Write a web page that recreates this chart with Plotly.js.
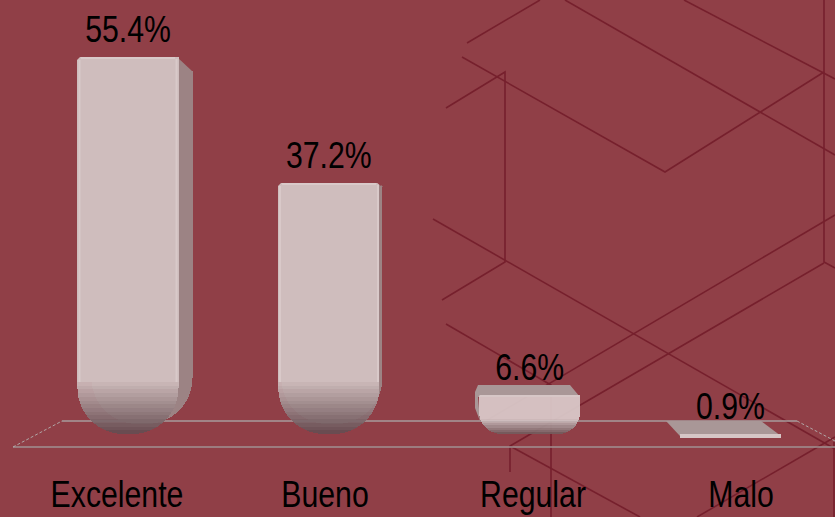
<!DOCTYPE html>
<html>
<head>
<meta charset="utf-8">
<script src="https://cdn.plot.ly/plotly-3.0.1.min.js"></script>
<style>html,body{margin:0;padding:0;background:#903F47;overflow:hidden}</style>
</head>
<body>
<div id="chart" style="width:835px;height:517px"></div>
<script>
// ---- data ----
var categories = ['Excelente', 'Bueno', 'Regular', 'Malo'];
var values = [55.4, 37.2, 6.6, 0.9];
var valueLabels = ['55.4%', '37.2%', '6.6%', '0.9%'];

// ---- page geometry ----
var W = 835, PLOT_H = 470;
var PX_PER_UNIT = 6.92, ZERO_PX = 440.5;
var FONT = '"Liberation Sans",Arial,sans-serif';
var BG = '#903F47';
function v(p) { return (ZERO_PX - p) / PX_PER_UNIT; }   // value at a page height
function drop(p) { return p / PX_PER_UNIT; }             // same height, measured down from the page top
function px(x) { return x / W; }
function py(y) { return 1 - y / PLOT_H; }

var sideTopPx = [71, 187, null, null];
var sideBottomPx = [424, 424, null, null];
var sideShiftPx = [14, 3, 0, 0];
var shadeStartPx = [382, 382, 419, null];
var shadeSteps = [14, 14, 7, 0];
var bottomPx = [434, 434, 434, 437.5];
var roundingPx = [46, 46, 22, 0];
var frontAxis = ['y3', 'y3', 'y4', 'y5'];
var faceAlpha = [1, 1, 0.93, 1];
var faceColor = [[207, 189, 189], [207, 189, 189], [218, 202, 202], [214, 198, 198]];
var footColor = [[98, 74, 78], [98, 74, 78], [108, 84, 86], [214, 198, 198]];
var BAR_W = 0.503, SPACING = 200.83;

function barPiece(cat, axis, height, color, radius, offset) {
  var t = {
    type: 'bar', x: [cat], y: [height], yaxis: axis, width: BAR_W,
    marker: { color: color, cornerradius: radius, line: { width: 0 } },
    hoverinfo: 'skip', showlegend: false
  };
  if (offset !== undefined) t.offset = offset;
  return t;
}

var traces = [];
// side faces (their own stack, behind the fronts)
categories.forEach(function (cat, i) {
  if (sideTopPx[i] === null) return;
  var off = -BAR_W / 2 + sideShiftPx[i] / SPACING;
  traces.push(barPiece(cat, 'y2', drop(sideTopPx[i]), 'rgba(0,0,0,0)', 46, off));
  traces.push(barPiece(cat, 'y2', drop(sideBottomPx[i] - sideTopPx[i]), '#9C8384', 46, off));
});
// front faces: a clear spacer down to the value, the face, then the shaded foot
categories.forEach(function (cat, i) {
  var r = roundingPx[i], n = shadeSteps[i], val = values[i], ax = frontAxis[i];
  var topDrop = drop(ZERO_PX) - val;
  traces.push(barPiece(cat, ax, topDrop, 'rgba(0,0,0,0)', r));
  var fc = faceColor[i], bc = footColor[i];
  if (n === 0) {
    traces.push(barPiece(cat, ax, drop(bottomPx[i]) - topDrop, 'rgb(' + fc.join(',') + ')', r));
    return;
  }
  traces.push(barPiece(cat, ax, drop(shadeStartPx[i]) - topDrop, 'rgba(' + fc.join(',') + ',' + faceAlpha[i] + ')', r));
  var step = (bottomPx[i] - shadeStartPx[i]) / n;
  for (var k = 0; k < n; k++) {
    var f = (k + 0.5) / n;
    var c = fc.map(function (a, j) { return Math.round(a + (bc[j] - a) * f); });
    traces.push(barPiece(cat, ax, drop(step), 'rgba(' + c.join(',') + ',0.93)', r));
  }
});
// value labels
traces.push({
  type: 'scatter', mode: 'markers+text', x: categories, y: values,
  text: valueLabels, textposition: 'top center',
  textfont: { family: FONT, size: 36, color: '#000000' },
  marker: { size: 8, opacity: 0 },
  hoverinfo: 'skip', showlegend: false, cliponaxis: false
});
// carrier of the category labels on their own scale
traces.push({
  type: 'scatter', mode: 'markers', x: categories, y: [0, 0, 0, 0], xaxis: 'x2',
  marker: { size: 1, opacity: 0 }, hoverinfo: 'skip', showlegend: false
});

// ---- decoration ----
var backdropLines = [
  [[467, 43], [540, 0]],
  [[565, 0], [835, 155]],
  [[684, 0], [835, 79]],
  [[824, 0], [824, 262], [835, 268]],
  [[462, 57], [665, 172], [824, 72]],
  [[446, 108], [505, 72], [505, 262], [442, 300]],
  [[433, 219], [835, 449]],
  [[446, 324], [551, 385], [551, 517]],
  [[835, 215], [484, 422]],
  [[824, 263], [510, 446], [510, 472]],
  [[510, 446], [640, 517]],
  [[697, 517], [835, 437]],
  [[834, 442], [834, 517]]
];
function pathOf(pts, close) {
  return pts.map(function (p, i) { return (i ? 'L' : 'M') + px(p[0]) + ',' + py(p[1]); }).join(' ') + (close ? ' Z' : '');
}
var shapes = backdropLines.map(function (pts) {
  return { type: 'path', xref: 'paper', yref: 'paper', layer: 'below', path: pathOf(pts),
    line: { color: '#76202D', width: 1.6 } };
});
var floorLines = [
  { pts: [[62, 421], [797, 421]], color: '#A79C9C', width: 1.3 },
  { pts: [[13, 447], [835, 447]], color: '#A09292', width: 1.5 },
  { pts: [[13, 447], [62, 421]], color: '#B0A6A6', width: 1, dash: '3px,2px' },
  { pts: [[797, 421], [835, 441]], color: '#B0A6A6', width: 1, dash: '3px,2px' }
];
floorLines.forEach(function (l) {
  shapes.push({ type: 'path', xref: 'paper', yref: 'paper', layer: 'below', path: pathOf(l.pts),
    line: { color: l.color, width: l.width, dash: l.dash || 'solid' } });
});
var depthFaces = [
  { pts: [[177, 57], [192, 71], [177, 71]], color: '#9C8384' },
  { pts: [[379, 183], [383, 187], [379, 187]], color: '#9C8384' },
  { pts: [[475, 392], [478, 385], [570, 385], [580, 397], [478, 397], [480, 421], [475, 408]], color: '#A99797' },
  { pts: [[666, 421], [761, 421], [781, 436], [680, 436]], color: '#A99797' }
];
depthFaces.forEach(function (d) {
  shapes.push({ type: 'path', xref: 'paper', yref: 'paper', layer: 'below', path: pathOf(d.pts, true),
    fillcolor: d.color, line: { width: 0 } });
});
// soft light rim along the front faces and small corner cuts at their tops
var rims = [
  [[176.5, 59], [176.5, 382]],
  [[79.5, 60], [79.5, 382]],
  [[81, 58], [175, 58]],
  [[378, 185], [378, 382]],
  [[280, 186], [280, 382]],
  [[282, 184], [376, 184]]
];
rims.forEach(function (pts) {
  shapes.push({ type: 'path', xref: 'paper', yref: 'paper', layer: 'above', path: pathOf(pts),
    line: { color: 'rgba(232,220,220,0.4)', width: 2 } });
});
var cuts = [
  [[77, 56], [81, 56], [77, 60]],
  [[277, 182], [282, 182], [277, 187]],
  [[381, 182], [376, 182], [381, 186]],
  [[477, 394], [481, 394], [477, 398]]
];
cuts.forEach(function (pts, i) {
  shapes.push({ type: 'path', xref: 'paper', yref: 'paper', layer: 'above', path: pathOf(pts, true),
    fillcolor: i === 3 ? '#A99797' : BG, line: { width: 0 } });
});

var hiddenY = { showticklabels: false, showgrid: false, zeroline: false, showline: false, ticks: '' };
function hiddenAxis(extra) { return Object.assign({}, hiddenY, extra); }
function dropAxis() { return hiddenAxis({ overlaying: 'y', anchor: 'x', range: [drop(470), 0] }); }
var layout = {
  width: 835, height: 517,
  margin: { l: 0, r: 0, t: 0, b: 47, pad: 0 },
  paper_bgcolor: BG, plot_bgcolor: 'rgba(0,0,0,0)',
  barmode: 'stack', showlegend: false,
  xaxis: { type: 'category', categoryarray: categories, categoryorder: 'array',
    range: [-128 / SPACING, (835 - 128) / SPACING], showticklabels: false, showgrid: false, zeroline: false, showline: false, ticks: '' },
  xaxis2: { type: 'category', categoryarray: categories, categoryorder: 'array', overlaying: 'x', anchor: 'y', side: 'bottom',
    range: [-117 / 208, (835 - 117) / 208], showgrid: false, zeroline: false, showline: false, ticks: '',
    tickfont: { family: FONT, size: 36, color: '#000000' } },
  yaxis: hiddenAxis({ range: [v(470), v(0)] }),
  yaxis2: dropAxis(), yaxis3: dropAxis(), yaxis4: dropAxis(), yaxis5: dropAxis(),
  shapes: shapes
};
Plotly.newPlot('chart', traces, layout, { staticPlot: true, displayModeBar: false }).then(function (gd) {
  // the reference lettering is condensed: narrow the drawn glyphs
  gd.querySelectorAll('.x2tick text, .textpoint text').forEach(function (t) {
    var w = t.getComputedTextLength();
    t.setAttribute('textLength', (w * 0.84).toFixed(1));
    t.setAttribute('lengthAdjust', 'spacingAndGlyphs');
  });
});
</script>
</body>
</html>
